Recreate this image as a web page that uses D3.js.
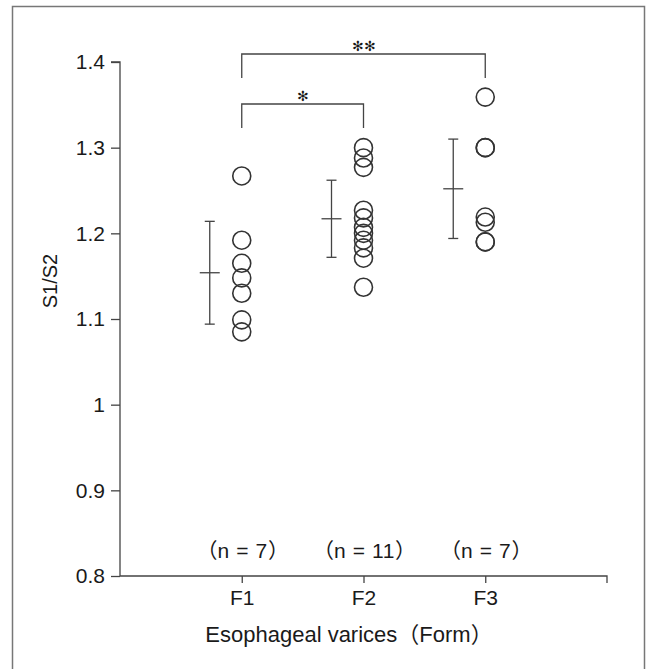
<!DOCTYPE html>
<html>
<head>
<meta charset="utf-8">
<script src="https://cdn.jsdelivr.net/npm/d3@7"></script>
<style>
  html, body { margin: 0; padding: 0; background: #fff; }
  svg { display: block; }
  text { font-family: "Liberation Sans Narrow", "Liberation Sans", Arial, sans-serif; fill: #1a1a1a; }
  .cjk { font-family: "Noto Sans CJK JP", sans-serif; }
</style>
</head>
<body>
<svg id="chart" width="646" height="669"></svg>
<script>
// Groups of esophageal varices form
const categories = ["F1", "F2", "F3"];
const groupSizes = [7, 11, 7];

// Individual S1/S2 ratios per group
const valuesF1 = [1.267, 1.192, 1.165, 1.148, 1.130, 1.099, 1.085];
const valuesF2 = [1.300, 1.288, 1.277, 1.227, 1.218, 1.207, 1.200, 1.192, 1.183, 1.171, 1.137];
const valuesF3 = [1.359, 1.300, 1.300, 1.219, 1.213, 1.190, 1.190];

// Group mean and standard deviation
const means = [1.154, 1.217, 1.252];
const sds = [0.060, 0.045, 0.058];

const yTicks = [0.8, 0.9, 1.0, 1.1, 1.2, 1.3, 1.4];

// Significance brackets between groups
const brackets = [
  { from: 0, to: 2, label: "**", level: 0 },
  { from: 0, to: 1, label: "*", level: 1 }
];

const svg = d3.select("#chart");
const ink = "#444";

// outer frame (top, left, right)
svg.append("path")
  .attr("d", "M12.5,669 V6.5 H644.5 V669")
  .attr("fill", "none").attr("stroke", "#777").attr("stroke-width", 1.5);

const x = d3.scaleLinear().domain([0, 4]).range([120, 607]);
const y = d3.scaleLinear().domain([0.8, 1.4]).range([576, 62]);

// y axis
const yAxis = d3.axisLeft(y).tickValues(yTicks)
  .tickFormat(d => d === 1 ? "1" : d3.format(".1f")(d))
  .tickSize(9).tickPadding(6);
const gy = svg.append("g").attr("transform", "translate(120,0)").call(yAxis);
gy.select(".domain").attr("d", `M-9,${y(1.4)}H0V${y(0.8)}`);

// x axis
const xAxis = d3.axisBottom(x).tickValues([1, 2, 3])
  .tickFormat(d => categories[d - 1]).tickSize(7).tickPadding(7);
const gx = svg.append("g").attr("transform", `translate(0,${y(0.8)})`).call(xAxis);
gx.select(".domain").attr("d", `M${x(0)},0H${x(4)}V7`);

[gy, gx].forEach(g => {
  g.attr("font-family", null).attr("font-size", null);
  g.selectAll("path, line").attr("stroke", ink).attr("stroke-width", 1.3);
  g.selectAll("text").style("font-size", "21px").attr("fill", "#1a1a1a");
});

// axis titles
svg.append("text")
  .attr("transform", `translate(50,281) rotate(-90)`)
  .attr("text-anchor", "middle").attr("dominant-baseline", "central")
  .style("font-size", "20px").text("S1/S2");

const xt = svg.append("text")
  .attr("x", 349).attr("y", 642)
  .attr("text-anchor", "middle").style("font-size", "22px");
xt.append("tspan").text("Esophageal varices");
xt.append("tspan").attr("class", "cjk").text("（");
xt.append("tspan").text("Form");
xt.append("tspan").attr("class", "cjk").text("）");

// group sizes
const nt = svg.selectAll("text.n")
  .data(groupSizes)
  .join("text").attr("class", "n")
  .attr("x", (d, i) => x(i + 1) + 1).attr("y", 558)
  .attr("text-anchor", "middle").style("font-size", "21px");
nt.append("tspan").attr("class", "cjk").text("（");
nt.append("tspan").attr("letter-spacing", 0.6).text(d => `n = ${d}`);
nt.append("tspan").attr("class", "cjk").text("）");

// data points
const groups = [valuesF1, valuesF2, valuesF3];
groups.forEach((vals, i) => {
  svg.append("g").selectAll("circle")
    .data(vals).join("circle")
    .attr("cx", x(i + 1)).attr("cy", d => y(d)).attr("r", 9)
    .attr("fill", "none").attr("stroke", "#333").attr("stroke-width", 1.6);
});

// mean ± SD bars, left of each column
const barOffset = -32;
const eb = svg.append("g").attr("stroke", ink).attr("stroke-width", 1.3);
means.forEach((m, i) => {
  const cx = x(i + 1) + barOffset;
  eb.append("line").attr("x1", cx).attr("x2", cx).attr("y1", y(m + sds[i])).attr("y2", y(m - sds[i]));
  eb.append("line").attr("x1", cx - 5).attr("x2", cx + 5).attr("y1", y(m + sds[i])).attr("y2", y(m + sds[i]));
  eb.append("line").attr("x1", cx - 5).attr("x2", cx + 5).attr("y1", y(m - sds[i])).attr("y2", y(m - sds[i]));
  eb.append("line").attr("x1", cx - 10).attr("x2", cx + 10).attr("y1", y(m)).attr("y2", y(m));
});

// significance brackets
const bracketTop = [54, 104];
const bracketDrop = [24, 24];
brackets.forEach(b => {
  const x1 = x(b.from + 1), x2 = x(b.to + 1), by = bracketTop[b.level];
  svg.append("path")
    .attr("d", `M${x1},${by + bracketDrop[b.level]}V${by}H${x2}V${by + bracketDrop[b.level]}`)
    .attr("fill", "none").attr("stroke", ink).attr("stroke-width", 1.3);
  svg.append("text")
    .attr("x", (x1 + x2) / 2).attr("y", by - 3)
    .attr("text-anchor", "middle").style("font-size", "14px").attr("fill", "#555")
    .text(b.label.replace(/\*/g, "✻"));
});
</script>
</body>
</html>
